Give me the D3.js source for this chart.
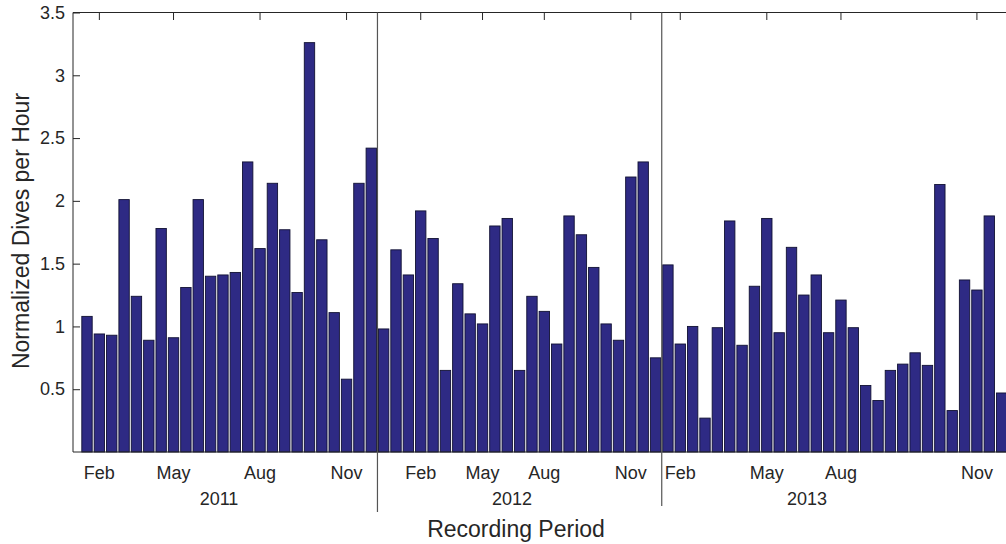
<!DOCTYPE html>
<html>
<head>
<meta charset="utf-8">
<script src="https://cdn.jsdelivr.net/npm/d3@7"></script>
<style>
  body { margin: 0; background: #fff; overflow: hidden; }
  text { font-family: "Liberation Sans", Arial, sans-serif; fill: #262626; }
</style>
</head>
<body>
<div id="chart"></div>
<script>
// normalized dives per hour, one bar per recording interval
var values2011 = [1.08, 0.94, 0.93, 2.01, 1.24, 0.89, 1.78, 0.91, 1.31, 2.01, 1.40, 1.41,
                  1.43, 2.31, 1.62, 2.14, 1.77, 1.27, 3.26, 1.69, 1.11, 0.58, 2.14, 2.42];
var values2012 = [0.98, 1.61, 1.41, 1.92, 1.70, 0.65, 1.34, 1.10, 1.02, 1.80, 1.86, 0.65,
                  1.24, 1.12, 0.86, 1.88, 1.73, 1.47, 1.02, 0.89, 2.19, 2.31, 0.75];
var values2013 = [1.49, 0.86, 1.00, 0.27, 0.99, 1.84, 0.85, 1.32, 1.86, 0.95, 1.63, 1.25,
                  1.41, 0.95, 1.21, 0.99, 0.53, 0.41, 0.65, 0.70, 0.79, 0.69, 2.13, 0.33,
                  1.37, 1.29, 1.88, 0.47];
var years = ["2011", "2012", "2013"];
var monthLabels = ["Feb", "May", "Aug", "Nov"];
// bar index where each month tick sits, per year
var monthTickIdx = [[1, 7, 14, 21], [27, 32, 37, 44], [48, 55, 61, 72]];
var yTicks = [0.5, 1, 1.5, 2, 2.5, 3, 3.5];

var values = values2011.concat(values2012, values2013);
var yearStarts = [0, values2011.length, values2011.length + values2012.length, values.length];

var width = 1006, height = 544;
var margin = {top: 12.5, left: 73, bottom: 92};
var plotBottom = height - margin.bottom;

var svg = d3.select("#chart").append("svg")
  .attr("width", width)
  .attr("height", height);

var step = 12.36;
var xScale = d3.scaleBand()
  .domain(d3.range(values.length))
  .range([87 - step / 2, 87 - step / 2 + step * values.length])
  .paddingInner(0.16)
  .paddingOuter(0.08);

var yScale = d3.scaleLinear().domain([0, 3.5]).range([plotBottom, margin.top]);
var xMid = function(i) { return xScale(i) + xScale.bandwidth() / 2; };
var gapBefore = function(i) { return xScale(i) - xScale.step() * xScale.paddingInner() / 2; };

// tick marks along the top (inward)
var allTicks = d3.merge(monthTickIdx);
svg.append("g").selectAll("line.tt")
  .data(allTicks).enter().append("line")
  .attr("x1", d => xMid(d)).attr("x2", d => xMid(d))
  .attr("y1", margin.top).attr("y2", margin.top + 7.5)
  .attr("stroke", "#262626").attr("stroke-width", 1);

// y axis
var yAxis = d3.axisLeft(yScale).tickValues(yTicks).tickSize(-7).tickPadding(8)
  .tickFormat(d3.format("~g"));
var yg = svg.append("g").attr("transform", `translate(${margin.left},0)`).call(yAxis);
yg.select(".domain").remove();
yg.selectAll("line").attr("stroke", "#262626");
yg.selectAll("text").style("font-size", "18px").attr("fill", "#262626");

// bars
svg.append("g").selectAll("rect")
  .data(values).enter().append("rect")
  .attr("x", (d, i) => xScale(i))
  .attr("y", d => yScale(d))
  .attr("width", xScale.bandwidth())
  .attr("height", d => plotBottom - yScale(d))
  .attr("fill", "#2e2a84")
  .attr("stroke", "#111133")
  .attr("stroke-width", 0.9);

// frame
svg.append("line").attr("x1", margin.left).attr("x2", width + 10)
  .attr("y1", margin.top).attr("y2", margin.top).attr("stroke", "#262626");
svg.append("line").attr("x1", margin.left).attr("x2", width + 10)
  .attr("y1", plotBottom).attr("y2", plotBottom).attr("stroke", "#262626");
svg.append("line").attr("x1", margin.left).attr("x2", margin.left)
  .attr("y1", margin.top).attr("y2", plotBottom).attr("stroke", "#262626");

// year separators
svg.append("g").selectAll("line")
  .data([yearStarts[1], yearStarts[2]]).enter().append("line")
  .attr("x1", d => gapBefore(d)).attr("x2", d => gapBefore(d))
  .attr("y1", margin.top).attr("y2", (d, i) => i === 0 ? 512 : 506)
  .attr("stroke", "#555").attr("stroke-width", 1.2);

// month labels
monthTickIdx.forEach(function(idx) {
  svg.append("g").selectAll("text")
    .data(idx).enter().append("text")
    .attr("x", d => xMid(d))
    .attr("y", 479)
    .attr("text-anchor", "middle")
    .style("font-size", "18px")
    .text((d, i) => monthLabels[i]);
});

// year labels
var yearCenters = [219, 512, 807];
svg.append("g").selectAll("text")
  .data(years).enter().append("text")
  .attr("x", (d, i) => yearCenters[i])
  .attr("y", 505)
  .attr("text-anchor", "middle")
  .style("font-size", "18px")
  .text(d => d);

// axis titles
svg.append("text")
  .attr("x", 516).attr("y", 537)
  .attr("text-anchor", "middle")
  .style("font-size", "23px")
  .text("Recording Period");

svg.append("text")
  .attr("transform", "translate(29,231) rotate(-90)")
  .attr("text-anchor", "middle")
  .style("font-size", "23px")
  .text("Normalized Dives per Hour");
</script>
</body>
</html>
